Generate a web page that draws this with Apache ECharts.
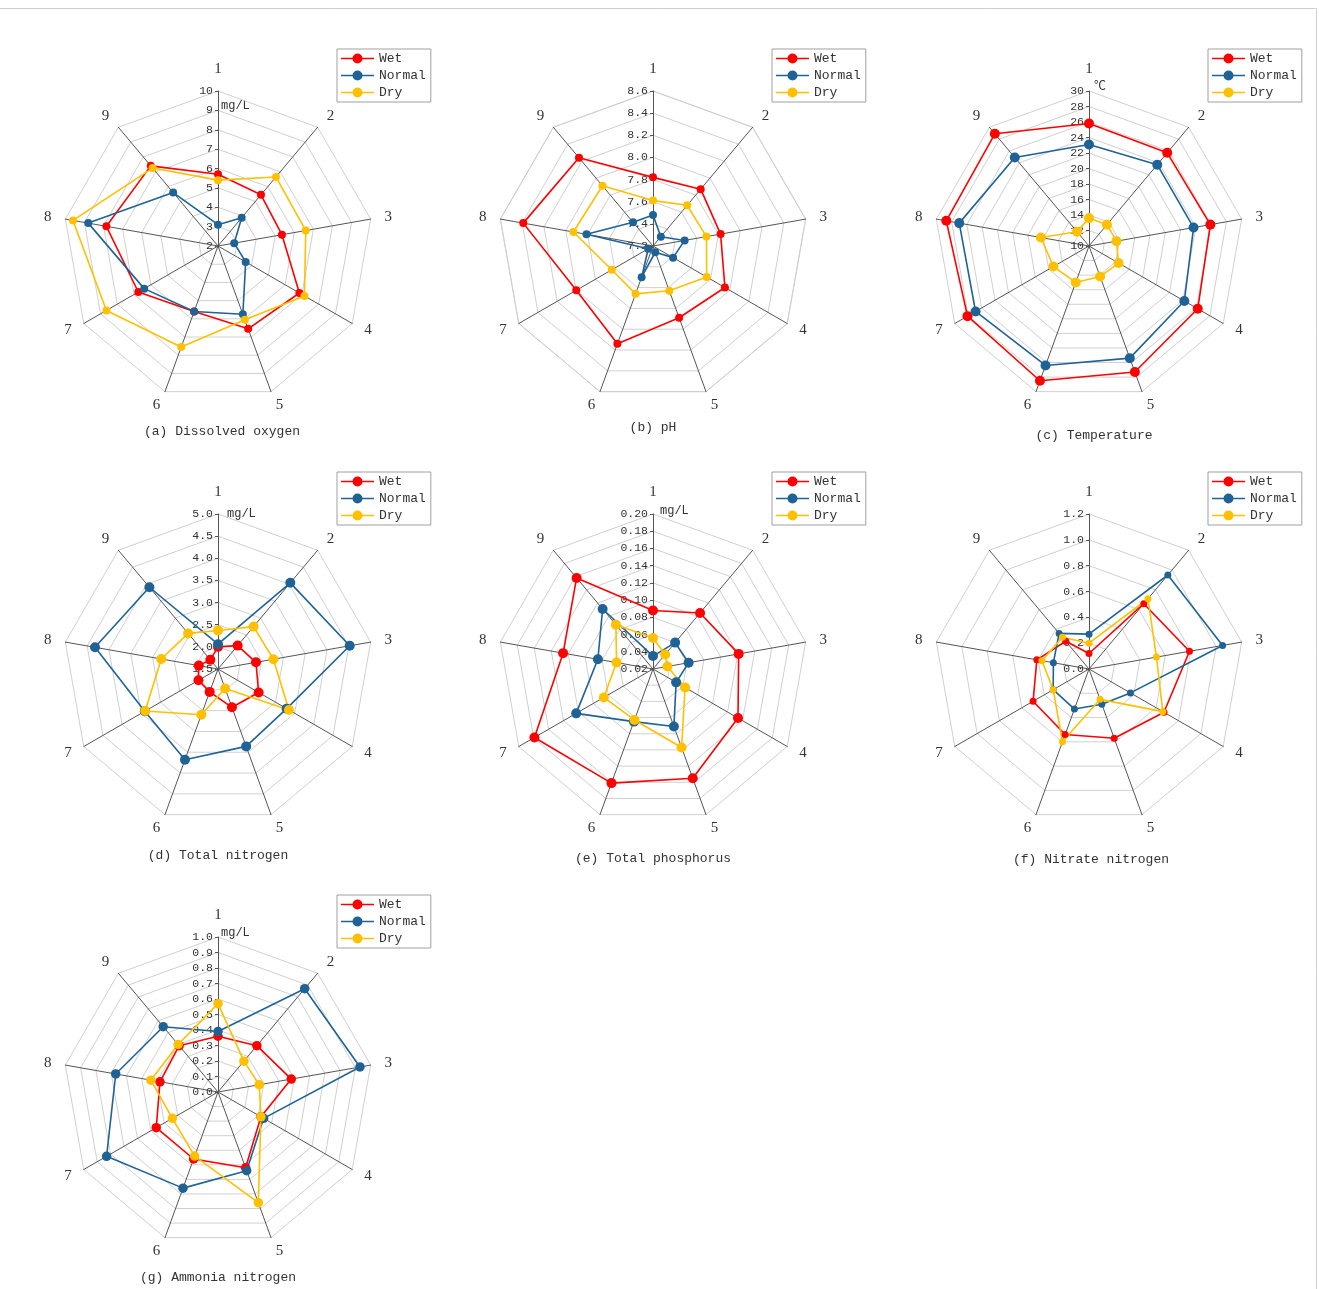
<!DOCTYPE html>
<html>
<head>
<meta charset="utf-8">
<title>Water quality radar charts</title>
<script src="https://cdn.jsdelivr.net/npm/echarts@6/dist/echarts.min.js"></script>
<style>
  html, body { margin: 0; padding: 0; background: #fff; }
  #chart { width: 1319px; height: 1289px; }
</style>
</head>
<body>
<div id="chart"></div>
<script>
// Sampling sites (radar axes) and hydrological periods
const axisNames = ['1', '2', '3', '4', '5', '6', '7', '8', '9'];
const seasons = ['Wet', 'Normal', 'Dry'];
const seasonColors = ['#ff0000', '#1f6396', '#ffc000'];

// (a) Dissolved oxygen, mg/L
const doTicks = ['2', '3', '4', '5', '6', '7', '8', '9', '10'];
const doWet = [5.7, 5.45, 5.35, 6.85, 6.55, 5.6, 6.75, 7.85, 7.4];
const doNormal = [3.1, 3.9, 2.85, 3.65, 5.75, 5.6, 6.4, 8.8, 5.6];
const doDry = [5.4, 6.65, 6.6, 7.15, 6.05, 7.55, 8.65, 9.6, 7.25];

// (b) pH
const phTicks = ['7.2', '7.4', '7.6', '7.8', '8.0', '8.2', '8.4', '8.6'];
const phWet = [7.82, 7.87, 7.82, 7.95, 7.89, 8.14, 8.0, 8.39, 8.24];
const phNormal = [7.48, 7.31, 7.49, 7.41, 7.26, 7.5, 7.25, 7.81, 7.48];
const phDry = [7.61, 7.68, 7.69, 7.76, 7.63, 7.66, 7.63, 7.93, 7.91];

// (c) Temperature, °C
const tempTicks = ['10', '12', '14', '16', '18', '20', '22', '24', '26', '28', '30'];
const tempWet = [25.8, 25.7, 25.9, 26.2, 27.3, 28.5, 28.1, 28.7, 28.9];
const tempNormal = [23.1, 23.7, 23.7, 24.2, 25.4, 26.4, 26.9, 27.0, 24.9];
const tempDry = [13.6, 13.6, 13.6, 14.4, 14.2, 15.0, 15.3, 16.3, 12.4];

// (d) Total nitrogen, mg/L
const tnTicks = ['1.5', '2.0', '2.5', '3.0', '3.5', '4.0', '4.5', '5.0'];
const tnWet = [2.0, 2.19, 2.37, 2.56, 2.42, 2.05, 2.01, 1.94, 1.77];
const tnNormal = [2.06, 4.04, 4.52, 3.29, 3.36, 3.68, 3.41, 4.32, 3.91];
const tnDry = [2.37, 2.75, 2.77, 3.35, 1.97, 2.6, 3.4, 2.8, 2.55];

// (e) Total phosphorus, mg/L
const tpTicks = ['0.02', '0.04', '0.06', '0.08', '0.10', '0.12', '0.14', '0.16', '0.18', '0.20'];
const tpWet = [0.088, 0.105, 0.121, 0.134, 0.155, 0.161, 0.179, 0.126, 0.158];
const tpNormal = [0.035, 0.06, 0.062, 0.051, 0.091, 0.085, 0.123, 0.085, 0.111];
const tpDry = [0.056, 0.042, 0.037, 0.063, 0.117, 0.083, 0.086, 0.063, 0.087];

// (f) Nitrate nitrogen, mg/L
const no3Ticks = ['0.0', '0.2', '0.4', '0.6', '0.8', '1.0', '1.2'];
const no3Wet = [0.12, 0.66, 0.79, 0.67, 0.57, 0.54, 0.5, 0.41, 0.28];
const no3Normal = [0.27, 0.95, 1.05, 0.37, 0.29, 0.33, 0.32, 0.28, 0.36];
const no3Dry = [0.2, 0.71, 0.53, 0.66, 0.25, 0.6, 0.32, 0.37, 0.32];

// (g) Ammonia nitrogen, mg/L
const nh3Ticks = ['0.0', '0.1', '0.2', '0.3', '0.4', '0.5', '0.6', '0.7', '0.8', '0.9', '1.0'];
const nh3Wet = [0.36, 0.39, 0.48, 0.32, 0.52, 0.46, 0.46, 0.38, 0.39];
const nh3Normal = [0.39, 0.87, 0.93, 0.34, 0.54, 0.66, 0.83, 0.67, 0.55];
const nh3Dry = [0.57, 0.26, 0.27, 0.32, 0.76, 0.44, 0.34, 0.44, 0.40];

// Panel layout: centre of each radar, caption and unit placement, marker size
const panels = [
  { ticks: doTicks, values: [doWet, doNormal, doDry], cx: 218, cy: 246, caption: '(a) Dissolved oxygen', capDx: 4, capDy: 186, unit: 'mg/L', unitDx: 3, unitDy: -140, sym: 8 },
  { ticks: phTicks, values: [phWet, phNormal, phDry], cx: 653, cy: 246, caption: '(b) pH', capDx: 0, capDy: 182, unit: null, sym: 8 },
  { ticks: tempTicks, values: [tempWet, tempNormal, tempDry], cx: 1089, cy: 246, caption: '(c) Temperature', capDx: 5, capDy: 190, unit: '℃', unitDx: 5, unitDy: -159, sym: 10 },
  { ticks: tnTicks, values: [tnWet, tnNormal, tnDry], cx: 218, cy: 669, caption: '(d) Total nitrogen', capDx: 0, capDy: 187, unit: 'mg/L', unitDx: 9, unitDy: -155, sym: 10 },
  { ticks: tpTicks, values: [tpWet, tpNormal, tpDry], cx: 653, cy: 669, caption: '(e) Total phosphorus', capDx: 0, capDy: 190, unit: 'mg/L', unitDx: 7, unitDy: -158, sym: 10 },
  { ticks: no3Ticks, values: [no3Wet, no3Normal, no3Dry], cx: 1089, cy: 669, caption: '(f) Nitrate nitrogen', capDx: 2, capDy: 191, unit: null, sym: 7 },
  { ticks: nh3Ticks, values: [nh3Wet, nh3Normal, nh3Dry], cx: 218, cy: 1092, caption: '(g) Ammonia nitrogen', capDx: 0, capDy: 186, unit: 'mg/L', unitDx: 3, unitDy: -159, sym: 9.5 }
];

const RADIUS = 155;
const monoFont = 'Liberation Mono, DejaVu Sans Mono, monospace';
const serifFont = 'Liberation Serif, DejaVu Serif, serif';

// ECharts lays radar indicators out counter-clockwise; sites run clockwise from the top.
const clockwiseOrder = axisNames.map((_, i) => (axisNames.length - i) % axisNames.length);

// Legend icon: a short line with a dot in the middle
const legendIcon = 'path://M0,4.25L12,4.25L12,5.75L0,5.75Z M21,4.25L33,4.25L33,5.75L21,5.75Z M11.5,5A5,5 0 1 1 21.5,5A5,5 0 1 1 11.5,5Z';

const radars = [];
const series = [];
const legends = [];
const graphics = [];

panels.forEach((p, pi) => {
  const min = parseFloat(p.ticks[0]);
  const max = parseFloat(p.ticks[p.ticks.length - 1]);
  const steps = p.ticks.length - 1;
  const tickLabel = (v) => {
    const idx = Math.round((v - min) / (max - min) * steps);
    return p.ticks[idx] !== undefined ? p.ticks[idx] : '';
  };

  radars.push({
    center: [p.cx, p.cy],
    radius: RADIUS,
    startAngle: 90,
    shape: 'polygon',
    splitNumber: steps,
    nameGap: 14,
    axisName: { color: '#333', fontSize: 15, fontFamily: serifFont },
    axisLine: { lineStyle: { color: '#555555', width: 1 } },
    splitLine: { lineStyle: { color: '#d0d0d0', width: 1 } },
    splitArea: { show: false },
    axisTick: { show: false },
    axisLabel: { show: false },
    indicator: clockwiseOrder.map((k) => ({
      name: axisNames[k],
      min: min,
      max: max,
      axisLabel: k === 0
        ? { show: true, color: '#333', fontSize: 11.5, fontFamily: monoFont, margin: 5, formatter: tickLabel }
        : { show: false },
      axisTick: k === 0
        ? { show: true, length: 3, lineStyle: { color: '#555555' } }
        : { show: false }
    }))
  });

  series.push({
    type: 'radar',
    radarIndex: pi,
    symbol: 'circle',
    symbolSize: p.sym,
    silent: true,
    data: seasons.map((name, si) => ({
      name: name,
      value: clockwiseOrder.map((k) => p.values[si][k]),
      itemStyle: { color: seasonColors[si] },
      lineStyle: { color: seasonColors[si], width: 1.6 }
    }))
  });

  legends.push({
    data: seasons,
    orient: 'vertical',
    left: p.cx + 119,
    top: p.cy - 197,
    itemWidth: 33,
    itemHeight: 10,
    itemGap: 4,
    icon: legendIcon,
    selectedMode: false,
    borderColor: '#a0a0a0',
    borderWidth: 1,
    padding: [3, 5, 3, 4],
    textStyle: { color: '#333', fontSize: 13, fontFamily: monoFont, lineHeight: 13 }
  });

  graphics.push({
    type: 'text',
    x: p.cx + p.capDx,
    y: p.cy + p.capDy,
    silent: true,
    style: { text: p.caption, fill: '#333', font: '13px ' + monoFont, align: 'center', verticalAlign: 'middle' }
  });

  if (p.unit) {
    graphics.push({
      type: 'text',
      x: p.cx + p.unitDx,
      y: p.cy + p.unitDy,
      silent: true,
      style: { text: p.unit, fill: '#333', font: '12px ' + monoFont + ', Noto Sans CJK SC', align: 'left', verticalAlign: 'middle' }
    });
  }
});

// Thin frame along the top and right edges
graphics.push({
  type: 'polyline',
  silent: true,
  shape: { points: [[0, 8.5], [1316.5, 8.5], [1316.5, 1289]] },
  style: { stroke: '#cfcfcf', lineWidth: 1, fill: null }
});

const chart = echarts.init(document.getElementById('chart'), null, { renderer: 'canvas' });
chart.setOption({
  backgroundColor: '#ffffff',
  animation: false,
  radar: radars,
  legend: legends,
  series: series,
  graphic: graphics
});
</script>
</body>
</html>
